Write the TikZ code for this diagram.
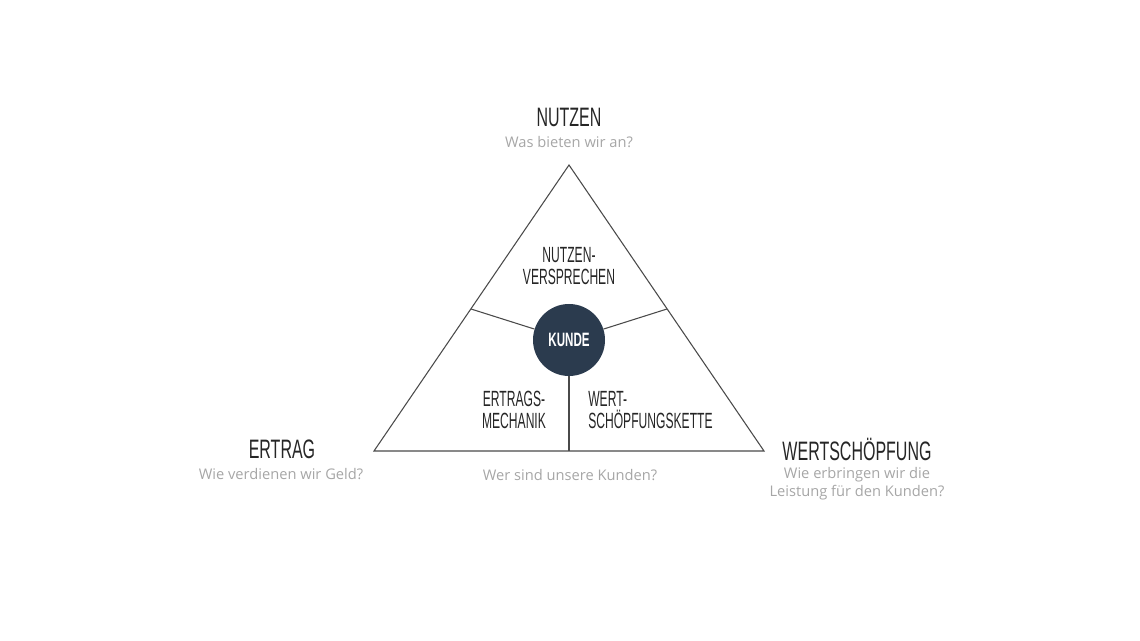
\documentclass[tikz,border=0pt]{standalone}
\usepackage{fontspec}
\usepackage{tikz}
\usetikzlibrary{positioning,calc}
\setmainfont{Open Sans}
\newfontfamily\headfont[FakeStretch=0.6]{Liberation Sans}
\newfontfamily\fieldfont[FakeStretch=0.55]{Liberation Sans}
\definecolor{navy}{HTML}{2B3B4E}
\definecolor{subgray}{HTML}{A6A6A6}
\definecolor{linegray}{HTML}{4A4A4A}
\tikzstyle{title}=[font=\headfont\fontsize{20}{22}\selectfont, text=black!85, inner sep=0pt]
\tikzstyle{question}=[font=\fontsize{11}{13.5}\selectfont, text=subgray, inner sep=0pt, align=center]
\tikzstyle{field}=[font=\fieldfont\fontsize{16.5}{17}\selectfont, text=black!85, inner sep=0pt]
\tikzstyle{kern}=[circle, fill=navy, minimum size=72pt*0.75, inner sep=0pt, text=white, font=\headfont\bfseries\fontsize{14.5}{16}\selectfont]
\tikzstyle{edge}=[draw=linegray, line width=0.8pt]

\begin{document}
\begin{tikzpicture}[x=0.75pt, y=-0.75pt]
  \useasboundingbox (0,0) rectangle (1140,641);
      \coordinate (top) at (569, 165);
			\coordinate (bl) at (374, 451);
			\coordinate (br) at (764, 451);
			\coordinate (el) at (471, 309);
			\coordinate (er) at (667, 309);
			\coordinate (eb) at (569, 451);
			\node[kern] at (569, 340) (kunde) {KUNDE};

			\node[title] at (569, 117) (nutzen) {NUTZEN};
			\node[question] at (569, 142) (qnutzen) {Was bieten wir an?};
			\node[title] at (282, 449) (ertrag) {ERTRAG};
			\node[question] at (281, 474) (qertrag) {Wie verdienen wir Geld?};
			\node[title] at (857, 449) (wert) {WERTSCHÖPFUNG};
			\node[question] at (857, 484) (qwert) {Wie erbringen wir die\\Leistung für den Kunden?};
			\node[question] at (570, 475) (qkunde) {Wer sind unsere Kunden?};

			\node[field, align=center] at (569, 266) (nv) {NUTZEN-\\VERSPRECHEN};
			\node[field, align=center] at (514, 410) (em) {ERTRAGS-\\MECHANIK};
			\node[field, align=left, anchor=west] at (588, 410) (wk) {WERT-\\SCHÖPFUNGSKETTE};

      \draw[edge] (top) -- (bl) -- (br) -- cycle;
			\draw[edge] (kunde) -- (el);
			\draw[edge] (kunde) -- (er);
			\draw[edge] (kunde) -- (eb);
  	\end{tikzpicture}
\end{document}
